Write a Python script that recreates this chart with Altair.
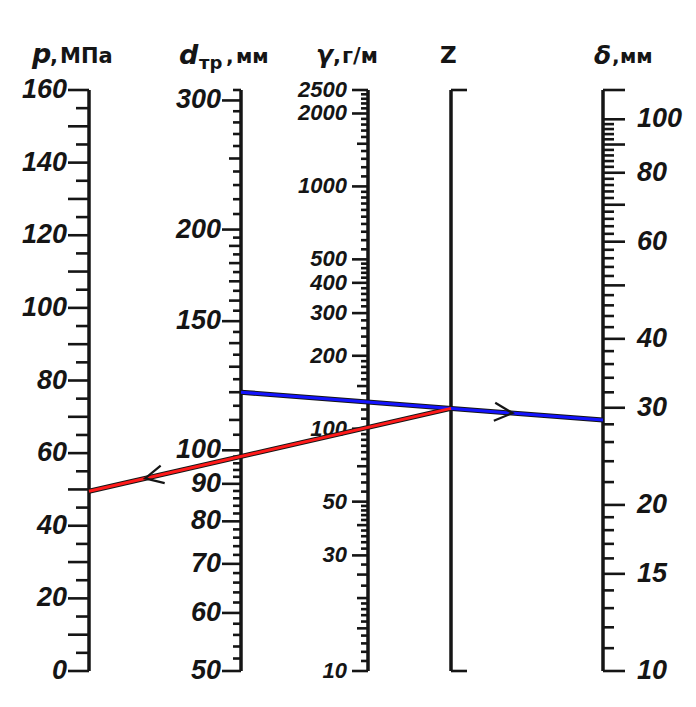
import altair as alt
import pandas as pd
import numpy as np

# ---------------- data ----------------
p_ticks = list(range(0, 161, 5))
p_labels = [0, 20, 40, 60, 80, 100, 120, 140, 160]
p_domain = [0, 160]

d_ticks = list(range(50, 100, 2)) + list(range(100, 200, 5)) + list(range(200, 311, 10))
d_labels = [50, 60, 70, 80, 90, 100, 150, 200, 300]
d_medium = [110, 120, 130, 140, 160, 170, 180, 190, 250]
d_domain = [50, 310]

g_ticks = (list(range(10, 20)) + [20, 22.5, 25, 27.5] + list(range(30, 50, 2))
           + list(range(50, 100, 5)) + list(range(100, 200, 10)) + list(range(200, 500, 20))
           + list(range(500, 1000, 50)) + list(range(1000, 2501, 100)))
g_labels = [10, 30, 50, 100, 200, 300, 400, 500, 1000, 2000, 2500]
g_medium = [15, 20, 25, 40, 70, 150, 1500]
g_domain = [10, 2500]

s_ticks = list(range(10, 20)) + list(range(20, 101, 2)) + [113]
s_labels = [10, 15, 20, 30, 40, 60, 80, 100]
s_long = [10, 15, 20, 30, 40, 50, 60, 70, 80, 90, 100, 113]
s_domain = [10, 113]

# worked example (key lines)
ex_d = 120     # d_tr, mm
ex_s = 28.5    # delta, mm
ex_p = 49.5    # p, MPa

# ---------------- layout / style constants ----------------
OFF = 8
W, H = 680, 688
Y_TOP, Y_BOT = 90, 671
AX = dict(p=89, d=241, g=368, z=451, s=603)
INK = "#151515"
NUM_FONT = "Liberation Sans, Arial, sans-serif"
HEAD_FONT = "DejaVu Sans, sans-serif"
YRANGE = [Y_BOT - OFF, Y_TOP - OFF]


def yscale(domain, log):
    return alt.Scale(type="log" if log else "linear", domain=domain, range=YRANGE,
                     nice=False, zero=False)


def axis_layer(ticks, lengths, labels, domain, log, x, side, label_x, font_size):
    rows = []
    for v in ticks:
        L = lengths(v)
        if side == "left":
            rows.append(dict(v=v, x0=x - L - OFF, x1=x - OFF))
        else:
            rows.append(dict(v=v, x0=x - OFF, x1=x + L - OFF))
    df = pd.DataFrame(rows)
    sc = yscale(domain, log)
    spine = alt.Chart(pd.DataFrame({"lo": [domain[0]], "hi": [domain[1]]})).mark_rule(
        color=INK, strokeWidth=3.5).encode(
        x=alt.value(x - OFF),
        y=alt.Y("lo:Q", scale=sc, axis=None),
        y2="hi:Q")
    tk = alt.Chart(df).mark_rule(color=INK, strokeWidth=2.6).encode(
        x=alt.X("x0:Q", scale=None),
        x2="x1:Q",
        y=alt.Y("v:Q", scale=sc, axis=None))
    lab = alt.Chart(pd.DataFrame({"v": labels})).mark_text(
        align="right" if side == "left" else "left", baseline="middle",
        font=NUM_FONT, fontSize=font_size, fontStyle="italic", fontWeight="bold",
        color=INK).encode(
        x=alt.value(label_x - OFF),
        y=alt.Y("v:Q", scale=sc, axis=None),
        text=alt.Text("v:Q", format="d"))
    return alt.layer(spine, tk, lab)


p_layer = axis_layer(p_ticks, lambda v: 21 if v % 10 == 0 else 13, p_labels, p_domain,
                     False, AX["p"], "left", 67, 27)
d_layer = axis_layer(d_ticks,
                     lambda v: 19 if v in d_labels else (12 if v in d_medium else 8),
                     d_labels, d_domain, True, AX["d"], "left", 221, 27)
g_layer = axis_layer(g_ticks,
                     lambda v: 16 if v in g_labels else (11 if v in g_medium else 7),
                     g_labels, g_domain, True, AX["g"], "left", 347, 22)
s_layer = axis_layer(s_ticks, lambda v: 22 if v in s_long else 11, s_labels, s_domain,
                     True, AX["s"], "right", 637, 27)

# Z axis: plain line with end caps on a unit scale
z_sc = alt.Scale(domain=[0, 1], range=YRANGE, nice=False, zero=False)
z_spine = alt.Chart(pd.DataFrame({"lo": [0], "hi": [1]})).mark_rule(
    color=INK, strokeWidth=3.5).encode(
    x=alt.value(AX["z"] - OFF), y=alt.Y("lo:Q", scale=z_sc, axis=None), y2="hi:Q")
z_caps = alt.Chart(pd.DataFrame({"v": [0, 1], "x0": [AX["z"] - OFF] * 2,
                                 "x1": [AX["z"] + 16 - OFF] * 2})).mark_rule(
    color=INK, strokeWidth=2.6).encode(
    x=alt.X("x0:Q", scale=None), x2="x1:Q", y=alt.Y("v:Q", scale=z_sc, axis=None))


# ---------------- key lines (positions through the axes' own scale functions) ----------------
def frac(v, domain, log):
    lo, hi = domain
    if log:
        return (np.log10(v) - np.log10(lo)) / (np.log10(hi) - np.log10(lo))
    return (v - lo) / (hi - lo)


fd = frac(ex_d, d_domain, True)
fs = frac(ex_s, s_domain, True)
fp = frac(ex_p, p_domain, False)
fz = fd + (fs - fd) * (AX["z"] - AX["d"]) / (AX["s"] - AX["d"])

seg = pd.DataFrame([
    dict(x0=AX["d"] - OFF, y0=fd, x1=AX["s"] - OFF, y1=fs, c="#1414ff"),
    dict(x0=AX["z"] - OFF, y0=fz, x1=AX["p"] - OFF, y1=fp, c="#ff1a1a"),
])
PXH = Y_BOT - Y_TOP


def arrow(x0, y0, x1, y1, t):
    xa = x0 + (x1 - x0) * t
    ya = y0 + (y1 - y0) * t
    ang = np.degrees(np.arctan2(-(y1 - y0) * PXH, (x1 - x0)))
    return dict(x=xa, y=ya, a=ang % 360)


arr = pd.DataFrame([
    arrow(AX["d"] - OFF, fd, AX["s"] - OFF, fs, 0.75),
    arrow(AX["z"] - OFF, fz, AX["p"] - OFF, fp, 0.845),
])

line_sc = alt.Scale(domain=[0, 1], range=YRANGE, nice=False, zero=False)
seg_dark = alt.Chart(seg).mark_rule(color=INK, strokeWidth=5).encode(
    x=alt.X("x0:Q", scale=None), x2="x1:Q",
    y=alt.Y("y0:Q", scale=line_sc, axis=None), y2="y1:Q")
seg_col = alt.Chart(seg).mark_rule(strokeWidth=3).encode(
    x=alt.X("x0:Q", scale=None), x2="x1:Q",
    y=alt.Y("y0:Q", scale=line_sc, axis=None), y2="y1:Q",
    color=alt.Color("c:N", scale=None))
arrows = alt.Chart(arr).mark_point(
    shape="M-1,-0.5L0,0L-1,0.5", filled=False, color=INK, strokeWidth=2.2,
    size=1300, opacity=1).encode(
    x=alt.X("x:Q", scale=None),
    y=alt.Y("y:Q", scale=line_sc, axis=None),
    angle=alt.Angle("a:Q", scale=None))
lines_layer = alt.layer(seg_dark, seg_col, arrows)

# ---------------- headers ----------------
head_rows = [
    ("p", 32, 63, 27, "italic", "bold"),
    (",", 50, 63, 21, "normal", "bold"),
    ("МПа", 60, 63, 21, "normal", "bold"),
    ("d", 179, 64, 27, "italic", "bold"),
    ("тр", 199, 69, 18, "normal", "bold"),
    (",", 226, 63, 20, "normal", "bold"),
    ("мм", 236, 63, 20, "normal", "bold"),
    ("γ", 316, 63, 25, "italic", "bold"),
    (",", 333, 63, 21, "normal", "bold"),
    ("г/м", 342, 63, 21, "normal", "bold"),
    ("Z", 440, 63, 23, "normal", "bold"),
    ("δ", 594, 64, 25, "italic", "bold"),
    (",", 612, 63, 20, "normal", "bold"),
    ("мм", 620, 63, 20, "normal", "bold"),
]
head_layers = []
for t, hx, hy, fs_, st, wt in head_rows:
    head_layers.append(
        alt.Chart(pd.DataFrame({"t": [t]})).mark_text(
            align="left", baseline="alphabetic", font=HEAD_FONT, fontSize=fs_,
            fontStyle=st, fontWeight=wt, color=INK).encode(
            x=alt.value(hx - OFF), y=alt.value(hy - OFF), text="t:N"))

chart = alt.layer(
    p_layer, d_layer, g_layer, s_layer,
    alt.layer(z_spine, z_caps),
    lines_layer,
    *head_layers,
).resolve_scale(y="independent").properties(
    width=W, height=H, padding=0, autosize="none", background="white"
).configure_view(strokeWidth=0)

chart.save("out.html", embed_options={"renderer": "svg", "actions": False})
